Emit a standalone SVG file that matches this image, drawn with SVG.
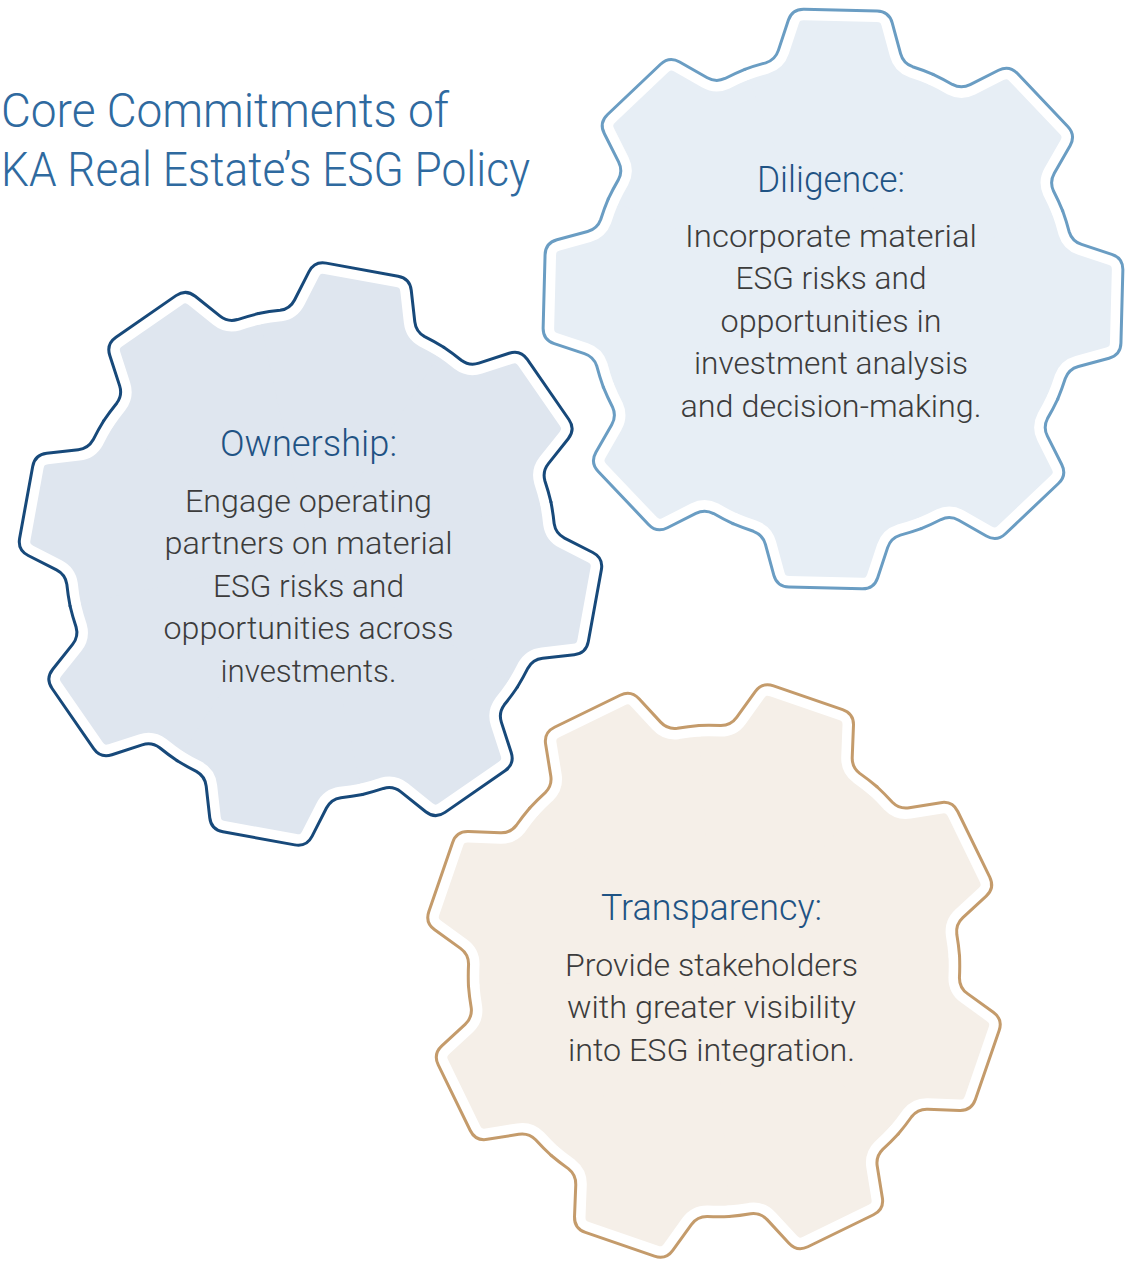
<svg xmlns="http://www.w3.org/2000/svg" xmlns:xlink="http://www.w3.org/1999/xlink" width="1125" height="1262" viewBox="0 0 1125 1262">
  <style>
    .title { font-family: Roboto, "Liberation Sans", sans-serif; font-weight: 300; font-size: 49px; fill: #2f6a9f; }
    .head { font-family: Roboto, "Liberation Sans", sans-serif; font-weight: 300; font-size: 37px; fill: #1f5384; text-anchor: middle; }
    .body { font-family: Roboto, "Liberation Sans", sans-serif; font-weight: 300; font-size: 32px; fill: #3c3c3c; text-anchor: middle; }
    .band { fill: none; stroke: #ffffff; stroke-width: 22; stroke-linecap: round; stroke-linejoin: round; }
    .edge { fill: none; stroke-width: 3; stroke-linecap: round; stroke-linejoin: round; }
  </style>
  <defs>
    <!-- one tooth of an 8-tooth gear, from mid-root to mid-root, pointing up -->
    <path id="tooth" d="M -94.14 -227.27 A 246 246 0 0 1 -73.47 -234.29 Q -64 -237.5 -61.12 -247.08 L -51.96 -277.51 Q -48.5 -289 -36.5 -289 L 36.5 -289 Q 48.5 -289 51.96 -277.51 L 61.12 -247.08 Q 64 -237.5 73.47 -234.29 A 246 246 0 0 1 94.14 -227.27"/>
    <path id="toothFill" d="M -94.14 -227.27 A 246 246 0 0 1 -73.47 -234.29 Q -64 -237.5 -61.12 -247.08 L -51.96 -277.51 Q -48.5 -289 -36.5 -289 L 36.5 -289 Q 48.5 -289 51.96 -277.51 L 61.12 -247.08 Q 64 -237.5 73.47 -234.29 A 246 246 0 0 1 94.14 -227.27 L 0 0 Z"/>
    <!-- full outline ring -->
    <g id="ring">
      <use xlink:href="#tooth"/>
      <use xlink:href="#tooth" transform="rotate(45)"/>
      <use xlink:href="#tooth" transform="rotate(90)"/>
      <use xlink:href="#tooth" transform="rotate(135)"/>
      <use xlink:href="#tooth" transform="rotate(180)"/>
      <use xlink:href="#tooth" transform="rotate(225)"/>
      <use xlink:href="#tooth" transform="rotate(270)"/>
      <use xlink:href="#tooth" transform="rotate(315)"/>
    </g>
    <!-- solid gear body -->
    <g id="body">
      <circle r="246"/>
      <use xlink:href="#toothFill"/>
      <use xlink:href="#toothFill" transform="rotate(45)"/>
      <use xlink:href="#toothFill" transform="rotate(90)"/>
      <use xlink:href="#toothFill" transform="rotate(135)"/>
      <use xlink:href="#toothFill" transform="rotate(180)"/>
      <use xlink:href="#toothFill" transform="rotate(225)"/>
      <use xlink:href="#toothFill" transform="rotate(270)"/>
      <use xlink:href="#toothFill" transform="rotate(315)"/>
    </g>
  </defs>

  <rect width="1125" height="1262" fill="#ffffff"/>

  <g id="title">
    <text class="title" x="1" y="126.7" textLength="448" lengthAdjust="spacingAndGlyphs">Core Commitments of</text>
    <text class="title" x="1" y="186" textLength="529" lengthAdjust="spacingAndGlyphs">KA Real Estate’s ESG Policy</text>
  </g>

  <g id="connectors"/>

  <!-- Diligence gear -->
  <g id="diligence">
    <g transform="translate(833 299) rotate(1.5)">
      <use xlink:href="#body" fill="#e7eef5"/>
      <use xlink:href="#ring" class="band"/>
      <use xlink:href="#ring" class="edge" stroke="#6a9dc3"/>
    </g>
    <text class="head" x="831" y="191.7" textLength="148" lengthAdjust="spacingAndGlyphs">Diligence:</text>
    <text class="body" x="831" y="246.7" textLength="292" lengthAdjust="spacingAndGlyphs">Incorporate material</text>
    <text class="body" x="831" y="289.2" textLength="191" lengthAdjust="spacingAndGlyphs">ESG risks and</text>
    <text class="body" x="831" y="331.7" textLength="221" lengthAdjust="spacingAndGlyphs">opportunities in</text>
    <text class="body" x="831" y="374.2" textLength="274" lengthAdjust="spacingAndGlyphs">investment analysis</text>
    <text class="body" x="831" y="416.7" textLength="301" lengthAdjust="spacingAndGlyphs">and decision-making.</text>
  </g>

  <!-- Ownership gear -->
  <g id="ownership">
    <g transform="translate(310.5 554) rotate(10.3)">
      <use xlink:href="#body" fill="#dfe6ef"/>
      <use xlink:href="#ring" class="band"/>
      <use xlink:href="#ring" class="edge" stroke="#17497a"/>
    </g>
    <text class="head" x="308.5" y="456" textLength="177" lengthAdjust="spacingAndGlyphs">Ownership:</text>
    <text class="body" x="308.5" y="511.7" textLength="247" lengthAdjust="spacingAndGlyphs">Engage operating</text>
    <text class="body" x="308.5" y="554.2" textLength="288" lengthAdjust="spacingAndGlyphs">partners on material</text>
    <text class="body" x="308.5" y="596.7" textLength="191" lengthAdjust="spacingAndGlyphs">ESG risks and</text>
    <text class="body" x="308.5" y="639.2" textLength="290" lengthAdjust="spacingAndGlyphs">opportunities across</text>
    <text class="body" x="308.5" y="681.7" textLength="176" lengthAdjust="spacingAndGlyphs">investments.</text>
  </g>

  <!-- Transparency gear -->
  <g id="transparency">
    <g transform="translate(714 971) rotate(19)">
      <use xlink:href="#body" fill="#f5efe8"/>
      <use xlink:href="#ring" class="band"/>
      <use xlink:href="#ring" class="edge" stroke="#c49b6b"/>
    </g>
    <text class="head" x="711.5" y="920" textLength="221" lengthAdjust="spacingAndGlyphs">Transparency:</text>
    <text class="body" x="711.5" y="975.5" textLength="293" lengthAdjust="spacingAndGlyphs">Provide stakeholders</text>
    <text class="body" x="711.5" y="1018" textLength="289" lengthAdjust="spacingAndGlyphs">with greater visibility</text>
    <text class="body" x="711.5" y="1060.5" textLength="287" lengthAdjust="spacingAndGlyphs">into ESG integration.</text>
  </g>
</svg>
